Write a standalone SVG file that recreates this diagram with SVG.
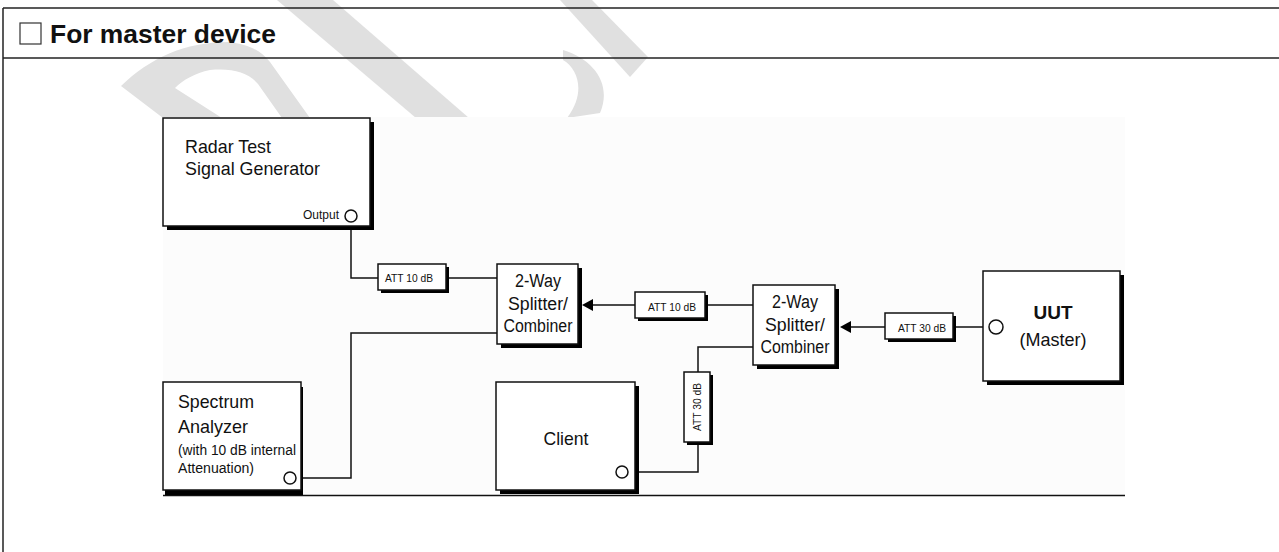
<svg xmlns="http://www.w3.org/2000/svg" width="1279" height="552" viewBox="0 0 1279 552">
<style>
.t{font-family:"Liberation Sans",Arial,sans-serif;fill:#111}
.box{fill:#fff;stroke:#111;stroke-width:1.5}
.sh{fill:#000}
.ln{fill:none;stroke:#111;stroke-width:1.5}
.port{fill:#fff;stroke:#111;stroke-width:1.5}
.wm{fill:#e0e0e0}
</style>
<defs>
<clipPath id="wmclip"><rect x="0" y="0" width="1279" height="117"/></clipPath>
</defs>
<rect width="1279" height="552" fill="#fff"/>
<g id="watermark" clip-path="url(#wmclip)">
<path class="wm" d="M163,118 L121,86 C150,58 185,42 228,42 C250,44 262,52 270,62 L310,118 L282,118 L258,84 C248,72 232,68 210,70 C195,73 183,80 175,88 L222,118 Z"/>
<path class="wm" d="M277,0 L333,0 L469,118 L416,118 Z"/>
<path class="wm" d="M560,0 L592,0 L648,57 L630,77 Z"/>
<path class="wm" d="M563,50 C595,60 612,85 600,113 L567,118 C585,95 580,70 563,60 Z"/>
</g>
<g id="frame">
<line x1="3" y1="8" x2="1279" y2="8" stroke="#222" stroke-width="1.5"/>
<line x1="3" y1="58" x2="1279" y2="58" stroke="#222" stroke-width="1.5"/>
<line x1="3" y1="8" x2="3" y2="552" stroke="#222" stroke-width="1.5"/>
<rect x="20" y="23" width="21" height="21" fill="#fff" stroke="#333" stroke-width="1.2"/>
<text class="t" x="50" y="43" font-size="26" font-weight="bold" textLength="226" lengthAdjust="spacingAndGlyphs">For master device</text>
</g>
<rect x="163" y="117" width="962" height="379" fill="#fcfcfc"/>
<line x1="163" y1="495.5" x2="1125" y2="495.5" stroke="#111" stroke-width="1.5"/>
<g id="connectors">
<path class="ln" d="M351,222 V278 H378"/>
<path class="ln" d="M446,278 H497"/>
<path class="ln" d="M635,305 H590"/>
<polygon points="582,305 593,299 593,311" fill="#000"/>
<path class="ln" d="M705,305 H753"/>
<path class="ln" d="M885,327 H848"/>
<polygon points="840,327 851,321 851,333" fill="#000"/>
<path class="ln" d="M953,327 H989"/>
<path class="ln" d="M753,347 H698 V372"/>
<path class="ln" d="M698,443 V472 H628"/>
<path class="ln" d="M296,478 H351 V333 H497"/>
</g>
<g id="radar">
<rect class="sh" x="167" y="122" width="207" height="108"/>
<rect class="box" x="163" y="118" width="207" height="108"/>
<text class="t" x="185" y="153" font-size="19" textLength="86" lengthAdjust="spacingAndGlyphs">Radar Test</text>
<text class="t" x="185" y="175" font-size="19" textLength="135" lengthAdjust="spacingAndGlyphs">Signal Generator</text>
<text class="t" x="303" y="219" font-size="12.5" textLength="36" lengthAdjust="spacingAndGlyphs">Output</text>
<circle class="port" cx="351" cy="216" r="6"/>
</g>
<g id="att1">
<rect class="sh" x="381" y="267" width="68" height="26"/>
<rect class="box" x="378" y="264" width="68" height="26"/>
<text class="t" x="385" y="282" font-size="11" textLength="48" lengthAdjust="spacingAndGlyphs">ATT 10 dB</text>
</g>
<g id="splitter1">
<rect class="sh" x="501" y="268" width="81" height="80"/>
<rect class="box" x="497" y="264" width="81" height="80"/>
<text class="t" x="538" y="287" font-size="18" text-anchor="middle" textLength="46" lengthAdjust="spacingAndGlyphs">2-Way</text>
<text class="t" x="538" y="310" font-size="18" text-anchor="middle" textLength="60" lengthAdjust="spacingAndGlyphs">Splitter/</text>
<text class="t" x="538" y="332" font-size="18" text-anchor="middle" textLength="69" lengthAdjust="spacingAndGlyphs">Combiner</text>
</g>
<g id="att2">
<rect class="sh" x="638" y="295" width="70" height="26"/>
<rect class="box" x="635" y="292" width="70" height="26"/>
<text class="t" x="648" y="311" font-size="11" textLength="48" lengthAdjust="spacingAndGlyphs">ATT 10 dB</text>
</g>
<g id="splitter2">
<rect class="sh" x="757" y="289" width="82" height="80"/>
<rect class="box" x="753" y="285" width="82" height="80"/>
<text class="t" x="795" y="308" font-size="18" text-anchor="middle" textLength="46" lengthAdjust="spacingAndGlyphs">2-Way</text>
<text class="t" x="795" y="331" font-size="18" text-anchor="middle" textLength="60" lengthAdjust="spacingAndGlyphs">Splitter/</text>
<text class="t" x="795" y="353" font-size="18" text-anchor="middle" textLength="69" lengthAdjust="spacingAndGlyphs">Combiner</text>
</g>
<g id="att3">
<rect class="sh" x="888" y="316" width="68" height="26"/>
<rect class="box" x="885" y="313" width="68" height="26"/>
<text class="t" x="898" y="332" font-size="11" textLength="48" lengthAdjust="spacingAndGlyphs">ATT 30 dB</text>
</g>
<g id="uut">
<rect class="sh" x="987" y="275" width="137" height="110"/>
<rect class="box" x="983" y="271" width="137" height="110"/>
<circle class="port" cx="996" cy="327" r="7"/>
<text class="t" x="1053" y="319" font-size="19" font-weight="bold" text-anchor="middle">UUT</text>
<text class="t" x="1053" y="346" font-size="19" text-anchor="middle" textLength="67" lengthAdjust="spacingAndGlyphs">(Master)</text>
</g>
<g id="att4">
<rect class="sh" x="687" y="375" width="26" height="70"/>
<rect class="box" x="684" y="372" width="26" height="70"/>
<text class="t" font-size="11" text-anchor="middle" textLength="48" lengthAdjust="spacingAndGlyphs" transform="translate(701,407) rotate(-90)">ATT 30 dB</text>
</g>
<g id="client">
<rect class="sh" x="500" y="386" width="139" height="108"/>
<rect class="box" x="496" y="382" width="139" height="108"/>
<text class="t" x="566" y="445" font-size="19" text-anchor="middle" textLength="45" lengthAdjust="spacingAndGlyphs">Client</text>
<circle class="port" cx="622" cy="472" r="6"/>
</g>
<g id="spectrum">
<rect class="sh" x="165" y="387" width="138" height="108"/>
<rect class="box" x="163" y="382" width="138" height="108"/>
<text class="t" x="178" y="408" font-size="19" textLength="76" lengthAdjust="spacingAndGlyphs">Spectrum</text>
<text class="t" x="178" y="433" font-size="19" textLength="70" lengthAdjust="spacingAndGlyphs">Analyzer</text>
<text class="t" x="178" y="455" font-size="14" textLength="118" lengthAdjust="spacingAndGlyphs">(with 10 dB internal</text>
<text class="t" x="178" y="473" font-size="14" textLength="76" lengthAdjust="spacingAndGlyphs">Attenuation)</text>
<circle class="port" cx="290" cy="478" r="6"/>
</g>
</svg>
